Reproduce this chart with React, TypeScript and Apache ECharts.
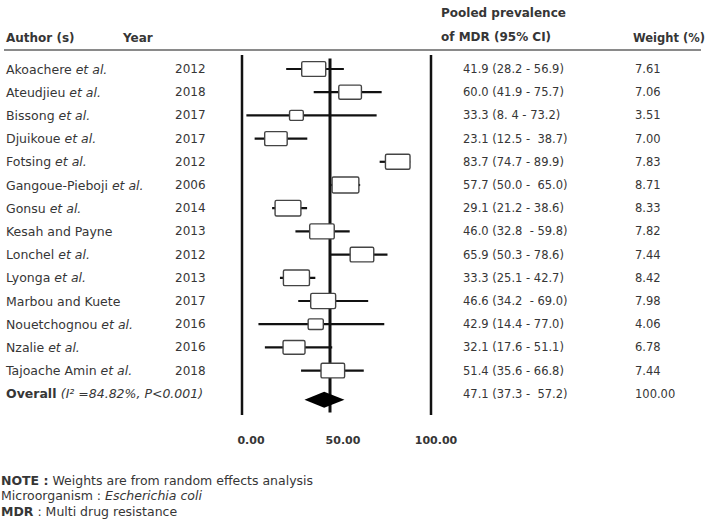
import React, { useEffect, useRef } from "react";
import * as echarts from "echarts";

const authors = [
  "Akoachere", "Ateudjieu", "Bissong", "Djuikoue", "Fotsing", "Gangoue-Pieboji",
  "Gonsu", "Kesah and Payne", "Lonchel", "Lyonga", "Marbou and Kuete",
  "Nouetchognou", "Nzalie", "Tajoache Amin",
];
const etAl = [true, true, true, true, true, true, true, false, true, true, false, true, true, true];
const years = [2012, 2018, 2017, 2017, 2012, 2006, 2014, 2013, 2012, 2013, 2017, 2016, 2016, 2018];
const prevalence = [41.9, 60.0, 33.3, 23.1, 83.7, 57.7, 29.1, 46.0, 65.9, 33.3, 46.6, 42.9, 32.1, 51.4];
const lower = [28.2, 41.9, 8.4, 12.5, 74.7, 50.0, 21.2, 32.8, 50.3, 25.1, 34.2, 14.4, 17.6, 35.6];
const upper = [56.9, 75.7, 73.2, 38.7, 89.9, 65.0, 38.6, 59.8, 78.6, 42.7, 69.0, 77.0, 51.1, 66.8];
const weights = [7.61, 7.06, 3.51, 7.0, 7.83, 8.71, 8.33, 7.82, 7.44, 8.42, 7.98, 4.06, 6.78, 7.44];
const ciLabels = [
  "41.9 (28.2 - 56.9)", "60.0 (41.9 - 75.7)", "33.3 (8. 4 - 73.2)", "23.1 (12.5 -  38.7)",
  "83.7 (74.7 - 89.9)", "57.7 (50.0 -  65.0)", "29.1 (21.2 - 38.6)", "46.0 (32.8  - 59.8)",
  "65.9 (50.3 - 78.6)", "33.3 (25.1 - 42.7)", "46.6 (34.2  - 69.0)", "42.9 (14.4 - 77.0)",
  "32.1 (17.6 - 51.1)", "51.4 (35.6 - 66.8)",
];
const overallLabel = "Overall";
const overallStats = "(I² =84.82%, P<0.001)";
const overallEstimate = 47.1;
const overallLower = 37.3;
const overallUpper = 57.2;
const overallCiLabel = "47.1 (37.3 -  57.2)";
const overallWeight = "100.00";
const referenceValue = 50;
const xTicks = [0, 50, 100];

const FONT = "'DejaVu Sans', 'Open Sans', sans-serif";
const TXT = "#363636";

const makeRich = (size: number) => ({
  n: { fontFamily: FONT, fontSize: size, fill: TXT, color: TXT },
  i: { fontFamily: FONT, fontSize: size, fontStyle: "italic", fill: TXT, color: TXT },
  b: { fontFamily: FONT, fontSize: size, fontWeight: "bold", fill: TXT, color: TXT },
});

export default function App() {
  const ref = useRef<HTMLDivElement>(null);
  useEffect(() => {
    if (!ref.current) return;
    const chart = echarts.init(ref.current, null, { renderer: "svg" });
    const categories = [...authors, overallLabel];
    const studyData = authors.map((_, i) => [i, prevalence[i], lower[i], upper[i], weights[i]]);
    const textEl = (x: number, y: number, text: string, size: number) => ({
      type: "text",
      style: {
        x, y, text, fill: TXT, font: `${size}px ${FONT}`, verticalAlign: "middle", align: "left",
        rich: makeRich(size),
      },
    });
    const header = (x: number, y: number, text: string, size = 12) => ({
      type: "text",
      style: { x, y, text, font: `bold ${size}px ${FONT}`, fill: TXT, verticalAlign: "middle" },
    });
    const note = (y: number, text: string) => ({
      type: "text",
      style: { x: 1, y, text, verticalAlign: "middle", font: `12.5px ${FONT}`, fill: TXT, rich: makeRich(12.5) },
    });

    const tickRich = (pad: number) => ({
      padding: [0, 0, 0, pad], fontWeight: "bold", fontSize: 11, fontFamily: FONT, color: TXT,
    });

    const option: any = {
      animation: false,
      grid: { left: 229.5, width: 201, top: 57.4, height: 348, outerBoundsMode: "none" },
      xAxis: {
        type: "value", min: 0, max: 100, interval: 50,
        axisLine: { show: false }, axisTick: { show: false }, splitLine: { show: false },
        axisLabel: {
          margin: 30,
          customValues: xTicks,
          formatter: (v: number) => `{t${v}|${v.toFixed(2)}}`,
          rich: { t0: tickRich(43), t50: tickRich(26), t100: tickRich(11) },
        },
      },
      yAxis: { type: "category", data: categories, inverse: true, show: false },
      graphic: [
        { type: "line", shape: { x1: 4, y1: 50, x2: 701, y2: 50 }, style: { stroke: "#8a8a8a", lineWidth: 2 } },
        { type: "line", shape: { x1: 242, y1: 55, x2: 242, y2: 415 }, style: { stroke: "#111", lineWidth: 2.5 } },
        { type: "line", shape: { x1: 431, y1: 55, x2: 431, y2: 415 }, style: { stroke: "#111", lineWidth: 2.5 } },
        header(6, 38, "Author (s)"),
        header(123, 38, "Year"),
        header(441, 13, "Pooled prevalence"),
        header(441, 37, "of MDR (95% CI)"),
        header(633, 38, "Weight (%)", 11.5),
        note(480, "{b|NOTE :}{n| Weights are from random effects analysis}"),
        note(495.5, "{n|Microorganism : }{i|Escherichia coli}"),
        note(511, "{b|MDR}{n| : Multi drug resistance}"),
      ],
      series: [
        {
          type: "custom",
          name: "reference",
          clip: false,
          data: [[referenceValue]],
          encode: { x: 0 },
          renderItem: (params: any, api: any) => {
            const cs = params.coordSys;
            const x = api.coord([api.value(0), 0])[0];
            return {
              type: "line",
              shape: { x1: x, y1: cs.y + 1, x2: x, y2: cs.y + cs.height + 7 },
              style: { stroke: "#111", lineWidth: 3 },
            };
          },
        },
        {
          type: "custom",
          name: "studies",
          clip: false,
          data: studyData,
          encode: { y: 0, x: [1, 2, 3] },
          renderItem: (_params: any, api: any) => {
            const idx = api.value(0);
            const est = api.value(1), lo = api.value(2), hi = api.value(3), w = api.value(4);
            const c = api.coord([est, idx]);
            const pl = api.coord([lo, idx]);
            const ph = api.coord([hi, idx]);
            const y = c[1];
            const bw = 5 + 2.5 * w;
            const bh = 6 + 1.15 * w;
            const nameText = etAl[idx] ? `{n|${authors[idx]} }{i|et al.}` : `{n|${authors[idx]}}`;
            return {
              type: "group",
              children: [
                { type: "line", shape: { x1: pl[0], y1: y, x2: ph[0], y2: y }, style: { stroke: "#111", lineWidth: 2.2 } },
                {
                  type: "rect",
                  shape: { x: c[0] - bw / 2, y: y - bh / 2, width: bw, height: bh, r: 1.5 },
                  style: { fill: "#fff", stroke: "#444", lineWidth: 1.4 },
                },
                textEl(6, y, nameText, 12.5),
                textEl(175, y, String(years[idx]), 12),
                textEl(463, y, ciLabels[idx], 11.5),
                textEl(635, y, weights[idx].toFixed(2), 11.5),
              ],
            };
          },
        },
        {
          type: "custom",
          name: "overall",
          clip: false,
          data: [[authors.length, overallEstimate, overallLower, overallUpper]],
          encode: { y: 0, x: [1, 2, 3] },
          renderItem: (_params: any, api: any) => {
            const idx = api.value(0);
            const c = api.coord([api.value(1), idx]);
            const pl = api.coord([api.value(2), idx]);
            const ph = api.coord([api.value(3), idx]);
            const y = c[1];
            const dy = y + 6;
            return {
              type: "group",
              children: [
                {
                  type: "polygon",
                  shape: { points: [[pl[0], dy], [c[0], dy - 8], [ph[0], dy], [c[0], dy + 8]] },
                  style: { fill: "#000" },
                },
                textEl(6, y, `{b|${overallLabel} }{i|${overallStats}}`, 12.5),
                textEl(463, y, overallCiLabel, 11.5),
                textEl(635, y, overallWeight, 11.5),
              ],
            };
          },
        },
      ],
    };
    chart.setOption(option);
    return () => chart.dispose();
  }, []);
  return (
    <div
      ref={ref}
      style={{ position: "fixed", left: 0, top: 0, width: 709, height: 520, background: "#fff" }}
    />
  );
}
